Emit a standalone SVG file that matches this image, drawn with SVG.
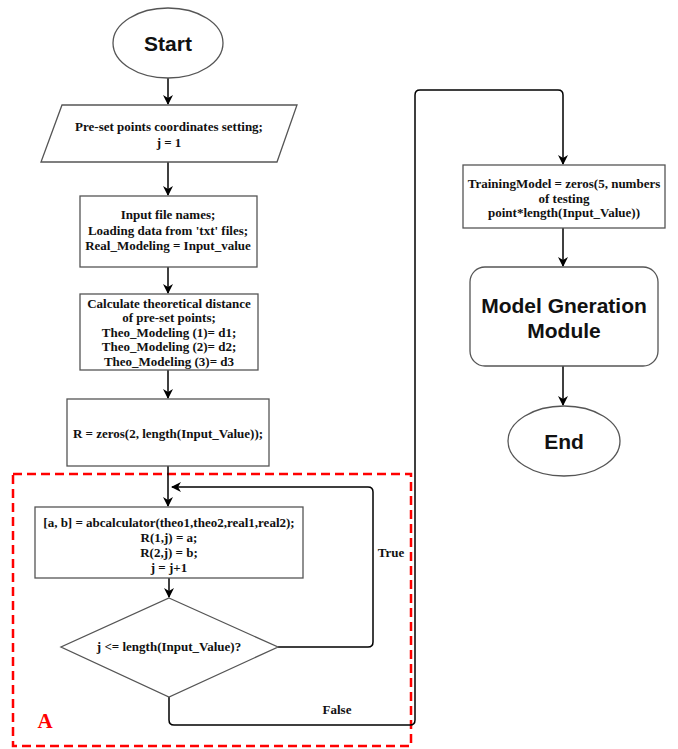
<svg xmlns="http://www.w3.org/2000/svg" width="678" height="749" viewBox="0 0 678 749">
<defs>
<marker id="arr" viewBox="0 0 10 10" refX="9" refY="5" markerWidth="10" markerHeight="10" markerUnits="userSpaceOnUse" orient="auto">
<path d="M0,0 L10,5 L0,10 L3,5 Z" fill="#000"/>
</marker>
<style>
.shape{fill:#fff;stroke:#555;stroke-width:1.3}
.t{font-family:"Liberation Serif","Times New Roman",serif;font-weight:bold;font-size:13px;fill:#111;text-anchor:middle}
.s{font-family:"Liberation Sans",Arial,sans-serif;font-weight:bold;font-size:21px;fill:#111;text-anchor:middle}
.c{fill:none;stroke:#000;stroke-width:1.5;marker-end:url(#arr)}
</style>
</defs>
<rect width="678" height="749" fill="#fff"/>
<g id="region-A">
<rect x="13" y="474" width="398" height="272" fill="none" stroke="#f00" stroke-width="2.5" stroke-dasharray="9 5"/>
<text x="45" y="728" font-family="Liberation Serif,serif" font-weight="bold" font-size="21" fill="#f00" text-anchor="middle">A</text>
</g>
<g id="connectors">
<path class="c" d="M168 78 V104"/>
<path class="c" d="M168 162 V195"/>
<path class="c" d="M168 267 V293"/>
<path class="c" d="M168 370 V398"/>
<path class="c" d="M168 466 V506"/>
<path class="c" d="M169 578 V597"/>
<path class="c" d="M278 647 H368 Q373 647 373 642 V492 Q373 487 368 487 H172"/>
<path class="c" d="M169 697 V720 Q169 725 174 725 H410 Q415 725 415 720 V95 Q415 90 420 90 H558 Q563 90 563 95 V164"/>
<path class="c" d="M563 228 V266"/>
<path class="c" d="M563 366 V405"/>
<text class="t" x="391" y="557">True</text>
<text class="t" x="337" y="714">False</text>
</g>
<g id="start">
<ellipse class="shape" cx="168" cy="43" rx="55" ry="35"/>
<text class="s" x="168" y="51">Start</text>
</g>
<g id="preset">
<polygon class="shape" points="62,105 297,105 277,162 41,162"/>
<text class="t" x="169" y="131">Pre-set points coordinates setting;</text>
<text class="t" x="169" y="147">j = 1</text>
</g>
<g id="input">
<rect class="shape" x="80" y="196" width="177" height="71"/>
<text class="t" x="168" y="219">Input file names;</text>
<text class="t" x="168" y="235">Loading data from 'txt' files;</text>
<text class="t" x="168" y="250">Real_Modeling = Input_value</text>
</g>
<g id="theo">
<rect class="shape" x="80" y="294" width="178" height="76"/>
<text class="t" x="169" y="308">Calculate theoretical distance</text>
<text class="t" x="169" y="322">of pre-set points;</text>
<text class="t" x="169" y="337">Theo_Modeling (1)= d1;</text>
<text class="t" x="169" y="351">Theo_Modeling (2)= d2;</text>
<text class="t" x="169" y="366">Theo_Modeling (3)= d3</text>
</g>
<g id="zeros">
<rect class="shape" x="67" y="399" width="202" height="67"/>
<text class="t" x="168" y="438">R = zeros(2, length(Input_Value));</text>
</g>
<g id="calc">
<rect class="shape" x="35" y="507" width="268" height="71"/>
<text class="t" x="169" y="527">[a, b] = abcalculator(theo1,theo2,real1,real2);</text>
<text class="t" x="169" y="542">R(1,j) = a;</text>
<text class="t" x="169" y="557">R(2,j) = b;</text>
<text class="t" x="169" y="572">j = j+1</text>
</g>
<g id="decision">
<polygon class="shape" points="169,598 278,647 169,697 61,647"/>
<text class="t" x="169" y="651">j &lt;= length(Input_Value)?</text>
</g>
<g id="training">
<rect class="shape" x="463" y="165" width="202" height="63"/>
<text class="t" x="564" y="188">TrainingModel = zeros(5, numbers</text>
<text class="t" x="564" y="203">of testing</text>
<text class="t" x="564" y="217">point*length(Input_Value))</text>
</g>
<g id="module">
<rect class="shape" x="470" y="267" width="188" height="99" rx="15"/>
<text class="s" x="564" y="313">Model Gneration</text>
<text class="s" x="564" y="338">Module</text>
</g>
<g id="end">
<ellipse class="shape" cx="564" cy="441" rx="56" ry="35"/>
<text class="s" x="564" y="449">End</text>
</g>
</svg>
